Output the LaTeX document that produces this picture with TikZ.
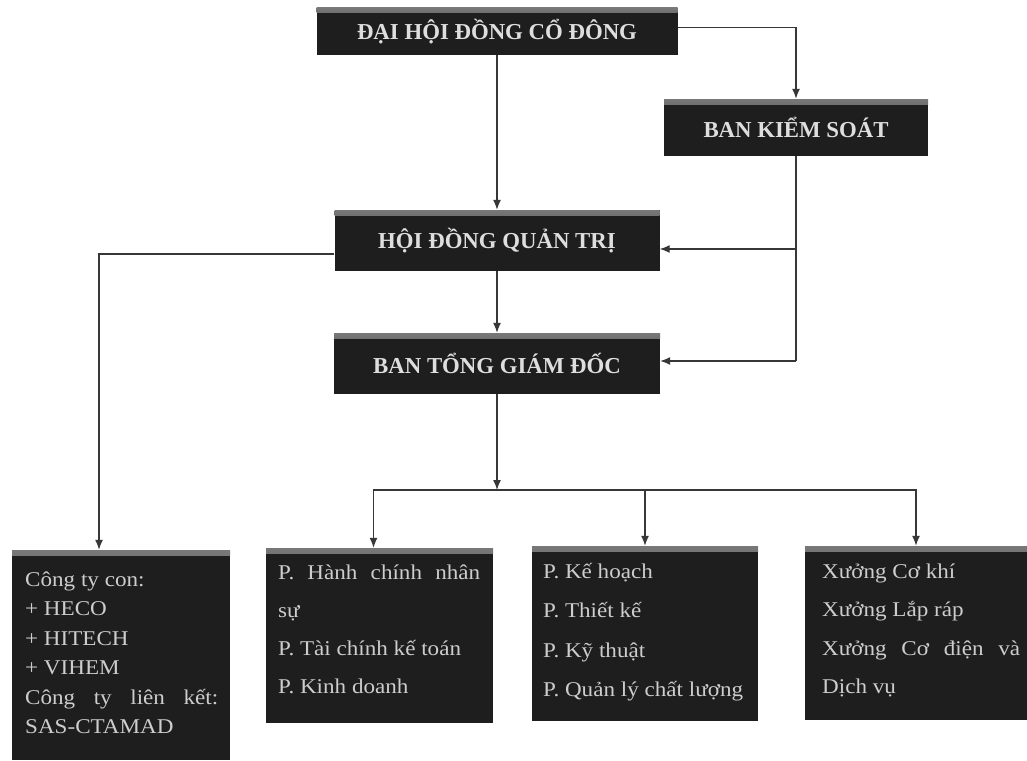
\documentclass[tikz,border=0pt]{standalone}
\usepackage{fontspec}
\setmainfont{Liberation Serif}
\newfontfamily\bodyfont[FakeStretch=1.1]{Liberation Serif}
\usetikzlibrary{arrows.meta}
\definecolor{boxdark}{RGB}{30,30,30}
\definecolor{boxtop}{RGB}{120,120,120}
\definecolor{txthead}{RGB}{222,222,222}
\definecolor{txtbody}{RGB}{205,205,205}
\definecolor{linec}{RGB}{55,55,55}
\begin{document}
\begin{tikzpicture}[x=1pt,y=-1pt,
  orgbox/.style={rectangle, fill=boxdark, inner sep=0pt,
    path picture={\fill[top color=boxtop, bottom color=boxdark] (path picture bounding box.north west) rectangle ([yshift=-5pt]path picture bounding box.north east);}},
  headtxt/.style={text=txthead, font=\bfseries\fontsize{22.8}{26}\selectfont},
  bodytxt/.style={anchor=base west, inner sep=0pt, text=txtbody},
  conn/.style={draw=linec, line width=1.4pt},
  arr/.style={conn, -{Latex[length=10pt,width=8pt]}}]
\useasboundingbox (0,0) rectangle (1027,760);
\fill[white] (0,0) rectangle (1027,760);

% header boxes
\node[orgbox, headtxt, minimum width=361pt, minimum height=47pt] (dh) at (497,31.5) {ĐẠI HỘI ĐỒNG CỔ ĐÔNG};
\node[orgbox, headtxt, minimum width=264pt, minimum height=57pt] (bks) at (796,127.5) {BAN KIỂM SOÁT};
\node[orgbox, headtxt, minimum width=325pt, minimum height=61pt] (hq) at (497,240.5) {HỘI ĐỒNG QUẢN TRỊ};
\node[orgbox, headtxt, minimum width=326pt, minimum height=61pt] (bt) at (497,363.5) {BAN TỔNG GIÁM ĐỐC};

% bottom boxes
\node[orgbox, minimum width=218pt, minimum height=210pt] (b1) at (121,655) {};
\node[orgbox, minimum width=227pt, minimum height=175pt] (b2) at (379.5,635.5) {};
\node[orgbox, minimum width=226pt, minimum height=175pt] (b3) at (645,633.5) {};
\node[orgbox, minimum width=222pt, minimum height=174pt] (b4) at (916,633) {};

% bottom texts
\node[bodytxt] (t1) at (25,586) {\parbox[t]{193pt}{\bodyfont\fontsize{21}{29.5}\selectfont
  Công ty con:\\
  + HECO\\
  + HITECH\\
  + VIHEM\\
  \makebox[\linewidth][s]{Công ty liên kết:}\\
  SAS-CTAMAD}};
\node[bodytxt] (t2) at (278,579) {\parbox[t]{202pt}{\bodyfont\fontsize{21}{38}\selectfont
  \makebox[\linewidth][s]{P. Hành chính nhân}\\
  sự\\
  P. Tài chính kế toán\\
  P. Kinh doanh}};
\node[bodytxt] (t3) at (543,578) {\parbox[t]{205pt}{\bodyfont\fontsize{21}{39.5}\selectfont
  P. Kế hoạch\\
  P. Thiết kế\\
  P. Kỹ thuật\\
  P. Quản lý chất lượng}};
\node[bodytxt] (t4) at (822,578) {\parbox[t]{198pt}{\bodyfont\fontsize{21}{38.5}\selectfont
  Xưởng Cơ khí\\
  Xưởng Lắp ráp\\
  \makebox[\linewidth][s]{Xưởng Cơ điện và}\\
  Dịch vụ}};

% connectors
\draw[arr] (dh.south) -- (hq.north);
\draw[arr] ([yshift=4pt]dh.east) -| (bks.north);
\coordinate (k1) at (bks.south |- 0,249);
\coordinate (k2) at (bks.south |- 0,361);
\draw[conn] (bks.south) -- (k2);
\draw[arr] (k1) -- (hq.east |- k1);
\draw[arr] (k2) -- (bt.east |- k2);
\draw[arr] (hq.south) -- (bt.north);
\coordinate (h1) at (99,254);
\draw[arr] (hq.west |- h1) -- (h1) -- (b1.north -| h1);
\coordinate (j) at (bt.south |- 0,490);
\draw[arr] (bt.south) -- (j);
\draw[arr] (j) -| ([xshift=-6pt]b2.north);
\draw[arr] (j) -| (b3.north);
\draw[arr] (j) -| (b4.north);
\end{tikzpicture}
\end{document}
